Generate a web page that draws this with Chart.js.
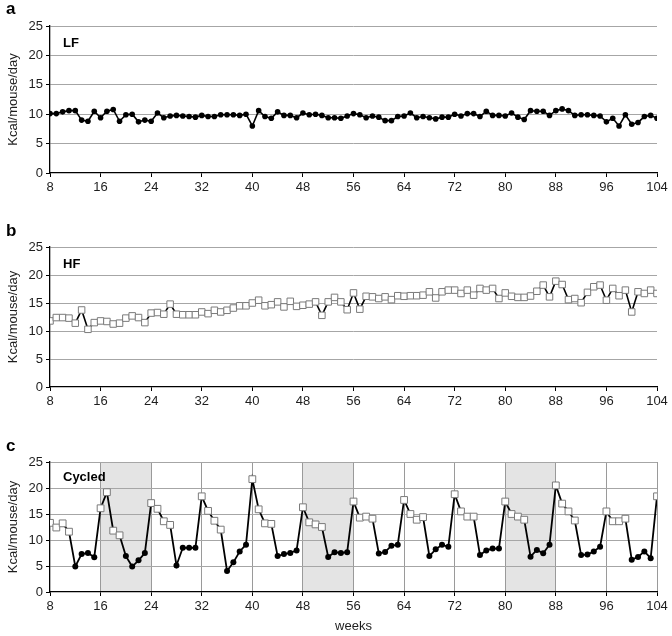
<!DOCTYPE html>
<html><head><meta charset="utf-8">
<script src="https://cdn.jsdelivr.net/npm/chart.js@4.4.1/dist/chart.umd.min.js"></script>
<style>
html,body{margin:0;padding:0;background:#fff;}
body{width:672px;height:636px;position:relative;overflow:hidden;font-family:"Liberation Sans",Arial,sans-serif;}
canvas{position:absolute;left:0;}
.lbl{position:absolute;font-weight:bold;color:#000;white-space:nowrap;}
.pl{font-size:17px;line-height:17px;}
.dl{font-size:13px;line-height:13px;}
</style></head><body>
<canvas id="ca" width="672" height="200" style="top:0px"></canvas>
<canvas id="cb" width="672" height="214" style="top:200px"></canvas>
<canvas id="cc" width="672" height="222" style="top:414px"></canvas>
<div class="lbl pl" style="left:6px;top:0px">a</div>
<div class="lbl pl" style="left:6px;top:222px">b</div>
<div class="lbl pl" style="left:6px;top:437px">c</div>
<div class="lbl dl" style="left:63px;top:36px">LF</div>
<div class="lbl dl" style="left:63px;top:257px">HF</div>
<div class="lbl dl" style="left:63px;top:470px">Cycled</div>
<script>
const weeks = [8,9,10,11,12,13,14,15,16,17,18,19,20,21,22,23,24,25,26,27,28,29,30,31,32,33,34,35,36,37,38,39,40,41,42,43,44,45,46,47,48,49,50,51,52,53,54,55,56,57,58,59,60,61,62,63,64,65,66,67,68,69,70,71,72,73,74,75,76,77,78,79,80,81,82,83,84,85,86,87,88,89,90,91,92,93,94,95,96,97,98,99,100,101,102,103,104];
const xTicks = [8,16,24,32,40,48,56,64,72,80,88,96,104];
const yTicks = [0,5,10,15,20,25];

const lfValues = [10.1,10.1,10.4,10.6,10.6,9.0,8.8,10.5,9.4,10.5,10.8,8.8,9.9,10.0,8.7,9.0,8.8,10.2,9.4,9.7,9.8,9.7,9.6,9.5,9.8,9.6,9.6,9.9,9.9,9.9,9.8,10.0,8.0,10.6,9.6,9.3,10.4,9.8,9.8,9.4,10.2,9.9,10.0,9.8,9.4,9.4,9.3,9.7,10.1,9.9,9.4,9.7,9.5,8.9,8.9,9.6,9.7,10.2,9.4,9.6,9.4,9.2,9.5,9.5,10.0,9.7,10.1,10.1,9.6,10.5,9.8,9.8,9.7,10.2,9.5,9.1,10.6,10.5,10.5,9.8,10.6,10.9,10.6,9.8,9.9,9.9,9.8,9.7,8.7,9.3,8.0,9.9,8.3,8.6,9.6,9.8,9.3];

const hfValues = [11.8,12.4,12.4,12.3,11.4,13.75,10.3,11.5,11.8,11.7,11.25,11.4,12.3,12.7,12.4,11.5,13.2,13.3,13.0,14.8,13.0,12.9,12.9,12.9,13.4,13.1,13.7,13.4,13.7,14.1,14.5,14.5,15.0,15.5,14.5,14.7,15.2,14.3,15.3,14.4,14.6,14.8,15.2,12.8,15.2,16.0,15.2,13.8,16.8,13.9,16.2,16.1,15.8,16.1,15.6,16.3,16.2,16.3,16.3,16.4,17.0,15.9,17.0,17.3,17.3,16.7,17.3,16.4,17.6,17.3,17.6,15.8,16.8,16.2,16.0,16.0,16.25,17.1,18.2,16.1,18.9,18.3,15.6,15.8,15.05,16.9,17.9,18.2,15.5,17.6,16.3,17.3,13.4,17.0,16.7,17.3,16.7];

const cycledValues = [13.3,12.4,13.2,11.6,4.9,7.3,7.5,6.7,16.1,19.2,11.8,10.9,6.9,4.9,6.1,7.5,17.1,16.0,13.6,12.9,5.1,8.5,8.5,8.5,18.4,15.6,13.7,12.0,4.05,5.7,7.8,9.1,21.7,15.9,13.2,13.1,6.9,7.3,7.5,8.0,16.3,13.4,13.0,12.5,6.75,7.65,7.5,7.65,17.4,14.3,14.5,14.1,7.4,7.7,8.9,9.1,17.7,15.0,13.9,14.4,6.9,8.2,9.1,8.7,18.8,15.5,14.5,14.5,7.1,8.0,8.35,8.35,17.4,15.0,14.5,13.9,6.8,8.1,7.45,9.1,20.5,17.0,15.5,13.75,7.1,7.2,7.8,8.7,15.5,13.6,13.6,14.1,6.2,6.75,7.8,6.5,18.4];

const cycledDiet = ['HF','HF','HF','HF','LF','LF','LF','LF','HF','HF','HF','HF','LF','LF','LF','LF','HF','HF','HF','HF','LF','LF','LF','LF','HF','HF','HF','HF','LF','LF','LF','LF','HF','HF','HF','HF','LF','LF','LF','LF','HF','HF','HF','HF','LF','LF','LF','LF','HF','HF','HF','HF','LF','LF','LF','LF','HF','HF','HF','HF','LF','LF','LF','LF','HF','HF','HF','HF','LF','LF','LF','LF','HF','HF','HF','HF','LF','LF','LF','LF','HF','HF','HF','HF','LF','LF','LF','LF','HF','HF','HF','HF','LF','LF','LF','LF','HF','HF','HF','HF','LF','LF','LF','LF','HF'];

const shadeStart = [16,48,80];
const shadeEnd = [24,56,88];

const FONT = {family:'"Liberation Sans", Arial, sans-serif', size:13};
const GRID = '#a6a6a6';
const TXT = '#1e1e1e';

function pts(vals){ return weeks.map((w,i)=>({x:w,y:vals[i]})); }

function makeScales(opts){
  return {
    x: {
      type:'linear', min:8, max:104,
      afterBuildTicks: s => { s.ticks = xTicks.map(v=>({value:v})); },
      afterFit: s => { s.height = opts.xh; },
      ticks:{font:FONT,color:TXT,maxRotation:0,autoSkip:false,padding:3},
      grid:{
        drawOnChartArea: !!opts.vgrid,
        color: c => (c.tick && c.tick.value===8) ? 'rgba(0,0,0,0)' : '#9a9a9a',
        borderDash: opts.vgrid ? [3,3] : [],
        tickColor:'#000', tickLength:4, tickBorderDash:[], lineWidth:1
      },
      border:{color:'#000',width:1.3},
      title: opts.xtitle ? {display:true,text:opts.xtitle,font:FONT,color:TXT,padding:{top:0,bottom:2}} : {display:false}
    },
    y: {
      min:0, max:25,
      afterBuildTicks: s => { s.ticks = yTicks.map(v=>({value:v})); },
      afterFit: s => { s.width = 50; },
      ticks:{font:FONT,color:TXT,padding:3},
      grid:{color: c => (c.tick && c.tick.value===0) ? 'rgba(0,0,0,0)' : GRID, tickColor:'#000', tickLength:4, lineWidth:1},
      border:{color:'#000',width:1.3},
      title:{display:true,text:'Kcal/mouse/day',font:FONT,color:TXT,padding:{top:6,bottom:0}}
    }
  };
}

const shadePlugin = {
  id:'shade',
  beforeDraw(chart, args, o){
    if(!o || !o.on) return;
    const {ctx, chartArea:a, scales:{x}} = chart;
    ctx.save();
    ctx.fillStyle = '#e4e4e4';
    shadeStart.forEach((s,i)=>{
      const x0 = x.getPixelForValue(s), x1 = x.getPixelForValue(shadeEnd[i]);
      ctx.fillRect(x0, a.top, x1-x0, a.bottom-a.top);
    });
    ctx.restore();
  }
};

function baseOptions(padTop, scales, shade){
  return {
    responsive:false, animation:false, events:[],
    layout:{padding:{top:padTop,right:15,left:0,bottom:0}},
    plugins:{legend:{display:false},tooltip:{enabled:false},shade:{on:shade}},
    scales: scales
  };
}

new Chart(document.getElementById('ca'), {
  type:'line',
  data:{datasets:[{data:pts(lfValues),borderColor:'#000',borderWidth:1.6,tension:0,
    pointStyle:'circle',pointRadius:2.8,pointBackgroundColor:'#000',pointBorderColor:'#000',pointBorderWidth:0}]},
  options: baseOptions(26, makeScales({xh:27}), false),
  plugins:[shadePlugin]
});

new Chart(document.getElementById('cb'), {
  type:'line',
  data:{datasets:[{data:pts(hfValues),borderColor:'#000',borderWidth:1.6,tension:0,
    pointStyle:'rect',pointRadius:4.6,pointBackgroundColor:'#fff',pointBorderColor:'#7a7a7a',pointBorderWidth:1}]},
  options: baseOptions(47, makeScales({xh:27}), false),
  plugins:[shadePlugin]
});

new Chart(document.getElementById('cc'), {
  type:'line',
  data:{datasets:[{data:pts(cycledValues),borderColor:'#000',borderWidth:1.8,tension:0,
    pointStyle: c => cycledDiet[c.dataIndex]==='HF' ? 'rect' : 'circle',
    pointRadius: c => cycledDiet[c.dataIndex]==='HF' ? 4.8 : 3,
    pointBackgroundColor: c => cycledDiet[c.dataIndex]==='HF' ? '#fff' : '#000',
    pointBorderColor: c => cycledDiet[c.dataIndex]==='HF' ? '#7a7a7a' : '#000',
    pointBorderWidth: c => cycledDiet[c.dataIndex]==='HF' ? 1 : 0}]},
  options: baseOptions(48, makeScales({xh:44, vgrid:true, xtitle:'weeks'}), true),
  plugins:[shadePlugin]
});
</script>
</body></html>
